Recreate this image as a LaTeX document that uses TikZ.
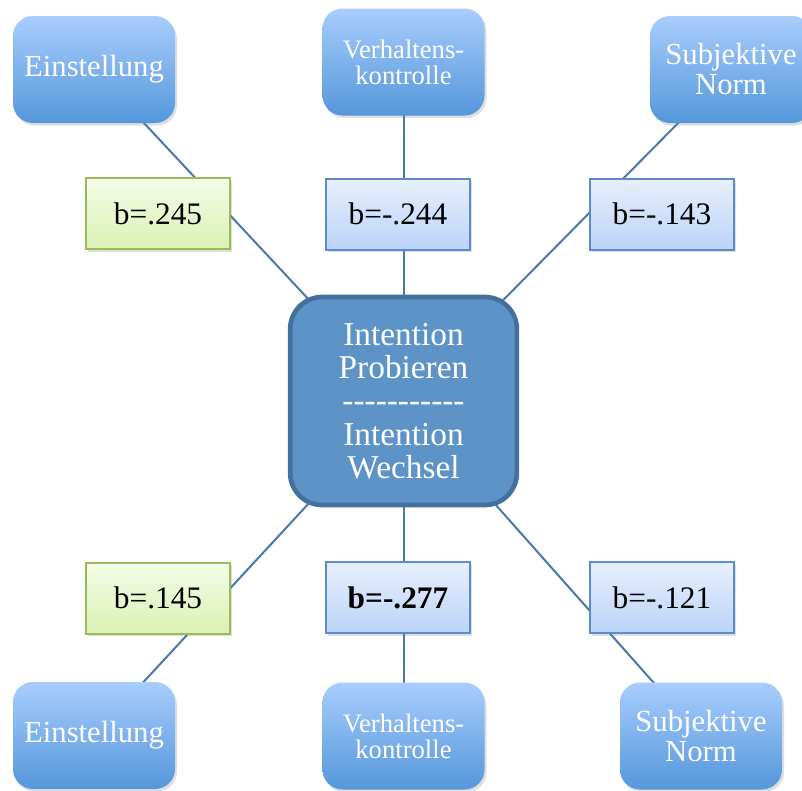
\documentclass[tikz,border=0pt]{standalone}
\usepackage{fontspec}
\setmainfont{Liberation Serif}[Ligatures=TeXOff]
\usetikzlibrary{positioning,backgrounds,shadows}
\definecolor{factortop}{HTML}{A9CDFD}
\definecolor{factorbot}{HTML}{5497DB}
\definecolor{intentfill}{HTML}{5E93C8}
\definecolor{intentline}{HTML}{44709E}
\definecolor{linkline}{HTML}{4A78A8}
\definecolor{postop}{HTML}{F4FCE8}
\definecolor{posbot}{HTML}{DBF1B4}
\definecolor{posline}{HTML}{9BBB59}
\definecolor{negtop}{HTML}{E8F0FD}
\definecolor{negbot}{HTML}{BBD3F9}
\definecolor{negline}{HTML}{5B8BC9}
\tikzset{
    %Define standard looks
    factor/.style={
      rectangle,
      rounded corners=15pt,
      top color=factortop, bottom color=factorbot,
      text=white,
      minimum width=121.5pt,
      minimum height=80.25pt,
      inner sep=0pt,
      align=center,
      drop shadow={shadow xshift=1.5pt, shadow yshift=-2pt, opacity=0.25}},
    coef/.style={
      rectangle,
      line width=1.5pt,
      minimum width=108pt,
      minimum height=53.25pt,
      inner sep=0pt,
      font=\fontsize{23.5}{23.5}\selectfont,
      drop shadow={shadow xshift=1.5pt, shadow yshift=-2pt, opacity=0.25}},
    coefpos/.style={coef, draw=posline, top color=postop, bottom color=posbot},
    coefneg/.style={coef, draw=negline, top color=negtop, bottom color=negbot},
    intent/.style={
      rectangle,
      rounded corners=24pt,
      draw=intentline, line width=3.5pt,
      fill=intentfill,
      text=white,
      minimum width=170pt,
      minimum height=156pt,
      inner sep=0pt,
      align=center,
      font=\fontsize{25}{25}\selectfont},
    link/.style={draw=linkline, line width=1.5pt},
    bigtext/.style={font=\fontsize{23}{22.5}\selectfont},
    smalltext/.style={font=\fontsize{20}{19.5}\selectfont},
}

\begin{document}
\begin{tikzpicture}[x=0.75pt,y=-0.75pt]
    \useasboundingbox (0,0) rectangle (802,790);
    \clip (0,0) rectangle (802,790);
    % centre
    \node (intent) [intent] at (403.5,401)
          {Intention\\Probieren\\-----------\\Intention\\Wechsel};
    % predictors, top row
    \node (ein1) [factor, bigtext] at (94,69.5) {Einstellung};
    \node (vk1) [factor, smalltext] at (403.5,62) {Verhaltens-\\kontrolle};
    \node (sn1) [factor, bigtext] at (731,69.5) {Subjektive\\Norm};
    % predictors, bottom row
    \node (ein2) [factor, bigtext] at (94,735.5) {Einstellung};
    \node (vk2) [factor, smalltext] at (403.5,736) {Verhaltens-\\kontrolle};
    \node (sn2) [factor, bigtext] at (701,736) {Subjektive\\Norm};
    % coefficients
    \node (b1) [coefpos] at (158,213.5) {b=.245};
    \node (b2) [coefneg] at (398,214) {b=-.244};
    \node (b3) [coefneg] at (662,214) {b=-.143};
    \node (b4) [coefpos] at (158,598) {b=.145};
    \node (b5) [coefneg] at (398,597.5) {\textbf{b=-.277}};
    \node (b6) [coefneg] at (662,597.5) {b=-.121};
    \begin{scope}[on background layer]
      \foreach \src in {ein1,vk1,sn1,ein2,vk2,sn2}
        \draw [link] (\src.center) -- (intent.center);
    \end{scope}
\end{tikzpicture}
\end{document}
